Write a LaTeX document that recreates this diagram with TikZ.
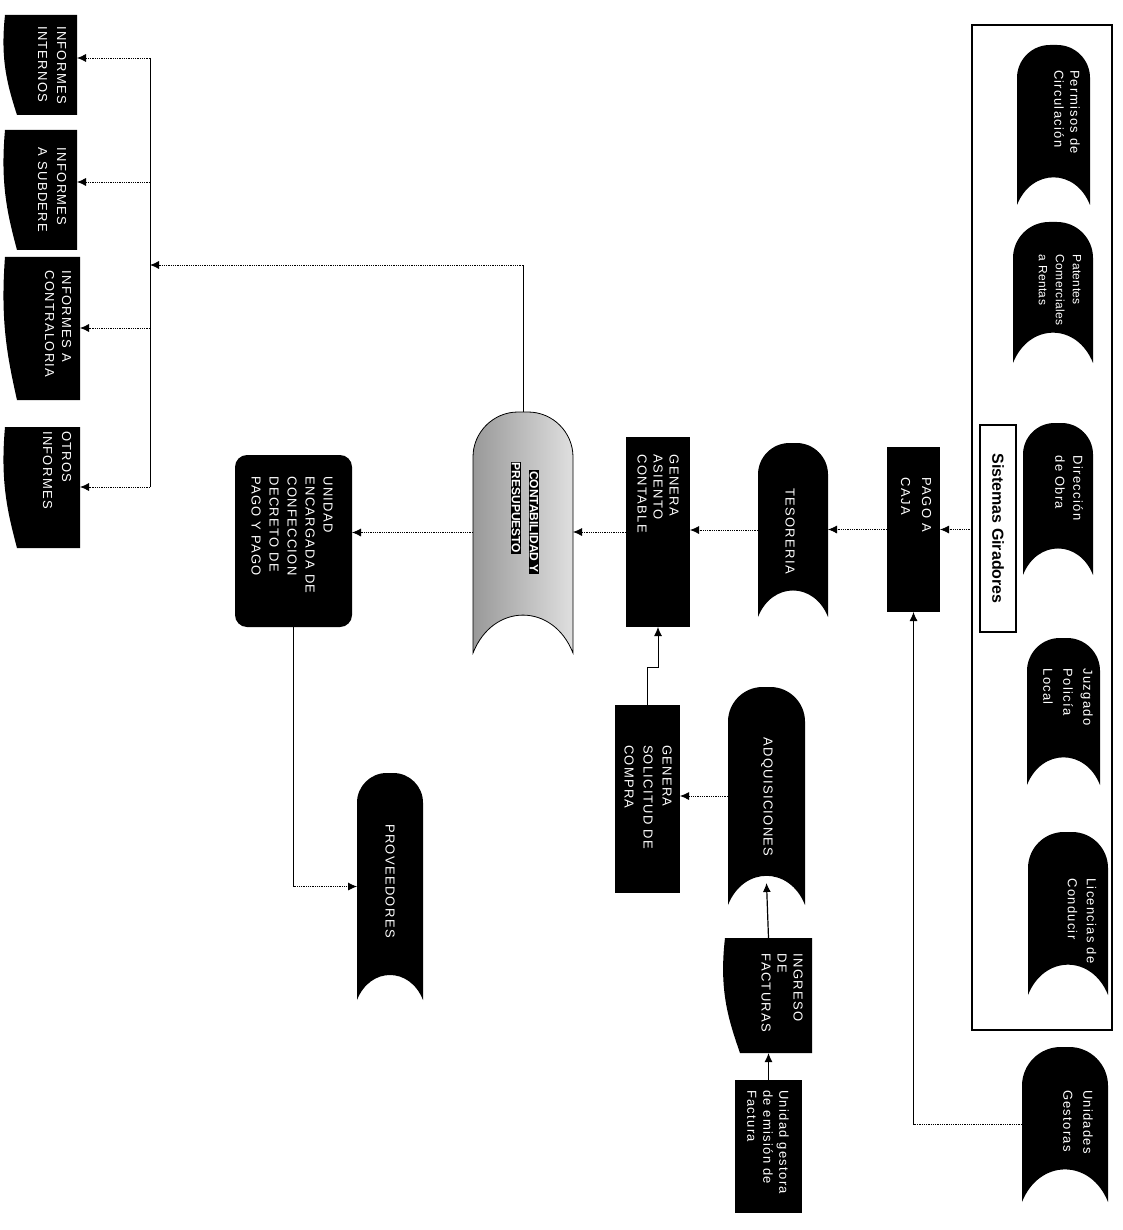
\documentclass[tikz,border=0pt]{standalone}
\usepackage{fontspec}
\setmainfont{Liberation Sans}
\setsansfont{Liberation Sans}
\newfontfamily\lblf[LetterSpace=10]{Liberation Sans}
\newfontfamily\lblg[LetterSpace=3]{Liberation Sans}
\usetikzlibrary{arrows.meta,calc}
\tikzset{
  conn/.style={line width=0.8pt,-{Latex[length=9pt,width=8pt]}},
  dotc/.style={densely dotted},
  solc/.style={line width=0.9pt},
  lbl/.style={text=white,rotate=-90,font={\lblf\fontsize{13}{16}\selectfont},align=left,inner sep=0pt},
  ghost/.style={inner sep=0pt,outer sep=0pt},
  blk/.style={fill=black},
}
\newcommand\tapeshape[6]{%
  \pgfmathsetmacro\tw{#4-#2}%
  \pgfmathsetmacro\tR{0.45*\tw}%
  \pgfmathsetmacro\td{0.38*\tw}%
  \node[ghost,minimum width={#4-#2},minimum height={#5-#3},anchor=north west] (#1) at (#2,#3) {};
  \path[#6] (#2,#5) -- ({#2},{#3+\tR}) .. controls ({#2},{#3+0.45*\tR}) and ({#2+0.45*\tR},{#3}) .. ({#2+\tR},{#3})
    -- ({#4-\tR},{#3}) .. controls ({#4-0.45*\tR},{#3}) and ({#4},{#3+0.45*\tR}) .. ({#4},{#3+\tR})
    -- (#4,#5) .. controls ({#4-0.2*\tw},{#5-1.33*\td}) and ({#2+0.2*\tw},{#5-1.33*\td}) .. (#2,#5) -- cycle;
}
\newcommand\docshape[7]{%
  \node[ghost,minimum width={#4-#2},minimum height={#5-#3},anchor=north west] (#1) at (#2,#3) {};
  \path[#7] (#2,#3) -- (#4,#3) -- (#4,#5) -- ({#2+#6},#5)
    .. controls ({#2+0.2*#6},{#5-0.3*(#5-#3)}) and ({#2-0.4*#6},{#3+0.45*(#5-#3)}) .. (#2,#3) -- cycle;
}
\newcommand\blackrect[5]{%
  \node[ghost,blk,minimum width={#4-#2},minimum height={#5-#3},anchor=north west] (#1) at (#2,#3) {};
}
\begin{document}
\begin{tikzpicture}[x=1pt,y=-1pt]
\useasboundingbox[fill=white] (0,0) rectangle (1122,1230);

% ---- frame of Sistemas Giradores ----
\node[ghost,draw,line width=1.6pt,minimum width=140,minimum height=1005,anchor=north west] (frame) at (972,25) {};
\node[ghost,draw,line width=1.2pt,fill=white,minimum width=36,minimum height=207,anchor=north west] (sisbox) at (980,425) {};
\node[rotate=-90,inner sep=0pt,font={\bfseries\fontsize{16}{18}\selectfont}] (t-sis) at (sisbox.center) {Sistemas Giradores};

\tapeshape{permisos}{1017}{45}{1090}{205}{blk}
\node[lbl] (t-permisos) at (1067,112) {Permisos de\\Circulación};
\tapeshape{patentes}{1013}{222}{1093}{363}{blk}
\node[lbl,font={\lblg\fontsize{12}{17}\selectfont}] (t-patentes) at (1060,290) {Patentes\\Comerciales\\a Rentas};
\tapeshape{direccion}{1023}{423}{1093}{575}{blk}
\node[lbl,font={\lblf\fontsize{13}{18}\selectfont}] (t-direccion) at (1069,488) {Dirección\\de Obra};
\tapeshape{juzgado}{1027}{638}{1100}{785}{blk}
\node[lbl,font={\lblf\fontsize{13}{20}\selectfont}] (t-juzgado) at (1068,697) {Juzgado\\Policía\\Local};
\tapeshape{licencias}{1028}{832}{1108}{995}{blk}
\node[lbl,font={\lblf\fontsize{13}{19}\selectfont}] (t-licencias) at (1082,921) {Licencias de\\Conducir};

\tapeshape{gest}{1022}{1047}{1108}{1202}{blk}
\node[lbl,font={\lblf\fontsize{13}{20}\selectfont}] (t-gest) at (1078,1122) {Unidades\\Gestoras};

% ---- main flow ----
\blackrect{pago}{887}{447}{940}{612}
\node[lbl,font={\lblf\fontsize{13}{21}\selectfont}] (t-pago) at (916,505) {PAGO A\\CAJA};
\tapeshape{teso}{758}{443}{828}{617}{blk}
\node[lbl] (t-teso) at (790,531) {TESORERIA};
\blackrect{asiento}{626}{437}{690}{627}
\node[lbl] (t-asiento) at (658,494) {GENERA\\ASIENTO\\CONTABLE};
\tapeshape{cont}{473}{412}{573}{653}{draw=black,line width=0.8pt,left color=gray!80,right color=gray!25}
\node[lbl,fill=black,inner sep=1.2pt,font={\bfseries\fontsize{12}{14}\selectfont}] (t-cont1) at (534,522) {CONTABILIDAD Y};
\node[lbl,fill=black,inner sep=1.2pt,font={\bfseries\fontsize{12}{14}\selectfont}] (t-cont2) at (516,508) {PRESUPUESTO};
\node[ghost,blk,rounded corners=12pt,minimum width=117,minimum height=172,anchor=north west] (unidad) at (235,455) {};
\node[lbl,font={\lblf\fontsize{13}{18}\selectfont}] (t-unidad) at (292,535) {UNIDAD\\ENCARGADA DE\\CONFECCION\\DECRETO DE\\PAGO Y PAGO};
\tapeshape{prov}{357}{773}{423}{1000}{blk}
\node[lbl] (t-prov) at (390,881) {PROVEEDORES};

\blackrect{sol}{615}{705}{680}{893}
\node[lbl,font={\lblf\fontsize{13}{19}\selectfont}] (t-sol) at (648,797) {GENERA\\SOLICITUD DE\\COMPRA};
\tapeshape{adq}{728}{687}{805}{905}{blk}
\node[lbl] (t-adq) at (767,797) {ADQUISICIONES};
\docshape{ingreso}{725}{938}{812}{1053}{15}{blk}
\node[lbl] (t-ingreso) at (782,993) {INGRESO\\DE\\FACTURAS};
\blackrect{factura}{735}{1080}{802}{1213}
\node[lbl] (t-factura) at (768,1142) {Unidad gestora\\de emisión de\\Factura};

% ---- reports ----
\docshape{r1}{5}{15}{77}{115}{12}{blk}
\node[lbl,font={\lblf\fontsize{13}{19}\selectfont}] (t-r1) at (52,65) {INFORMES\\INTERNOS};
\docshape{r2}{5}{130}{77}{250}{12}{blk}
\node[lbl,font={\lblf\fontsize{13}{19}\selectfont}] (t-r2) at (52,190) {INFORMES\\A SUBDERE};
\docshape{r3}{5}{257}{80}{400}{12}{blk}
\node[lbl,font={\lblf\fontsize{13}{17}\selectfont}] (t-r3) at (58,324) {INFORMES A\\CONTRALORIA};
\docshape{r4}{5}{427}{80}{548}{12}{blk}
\node[lbl,font={\lblf\fontsize{13}{19}\selectfont}] (t-r4) at (57,470) {OTROS\\INFORMES};

% ---- connectors ----
\draw[conn,dotc] (frame.west |- pago.east) -- (pago.east);
\draw[conn,dotc] (pago.west) -- (teso.east |- pago.west);
\draw[conn,dotc] (teso.west) -- (asiento.east |- teso.west);
\draw[conn,dotc] (asiento.west) -- (cont.east |- asiento.west);
\draw[conn,dotc] (cont.west) -- (unidad.east |- cont.west);
\coordinate (c-up) at (unidad.south |- prov.west);
\draw[solc] (unidad.south) -- (c-up);
\draw[conn,dotc] (c-up) -- (prov.west);
\draw[conn,solc] (sol.north) -- ++(0,-38) -| (asiento.south);
\draw[conn,dotc] (adq.west) -- (sol.east |- adq.west);
\draw[conn,line width=1.2pt] (ingreso.north) -- ($(adq.south)+(0,-22)$);
\draw[conn,line width=1.2pt] (factura.north) -- (factura.north |- ingreso.south);
\coordinate (c-ug) at (gest.west -| pago.south);
\draw[dotc,line width=0.8pt] (gest.west) -- (c-ug);
\draw[conn,solc] (c-ug) -- (pago.south);
\coordinate (c-top) at (cont.north |- 0,265);
\coordinate (b-mid) at (150,265);
\draw[solc] (cont.north) -- (c-top);
\draw[conn,dotc] (c-top) -- (b-mid);
\coordinate (b1) at (150,58);
\coordinate (b2) at (150,182);
\coordinate (b3) at (150,328);
\coordinate (b4) at (150,487);
\draw[solc] (b1) -- (b4);
\draw[conn,dotc] (b1) -- (r1.east |- b1);
\draw[conn,dotc] (b2) -- (r2.east |- b2);
\draw[conn,dotc] (b3) -- (r3.east |- b3);
\draw[conn,dotc] (b4) -- (r4.east |- b4);
\end{tikzpicture}
\end{document}
